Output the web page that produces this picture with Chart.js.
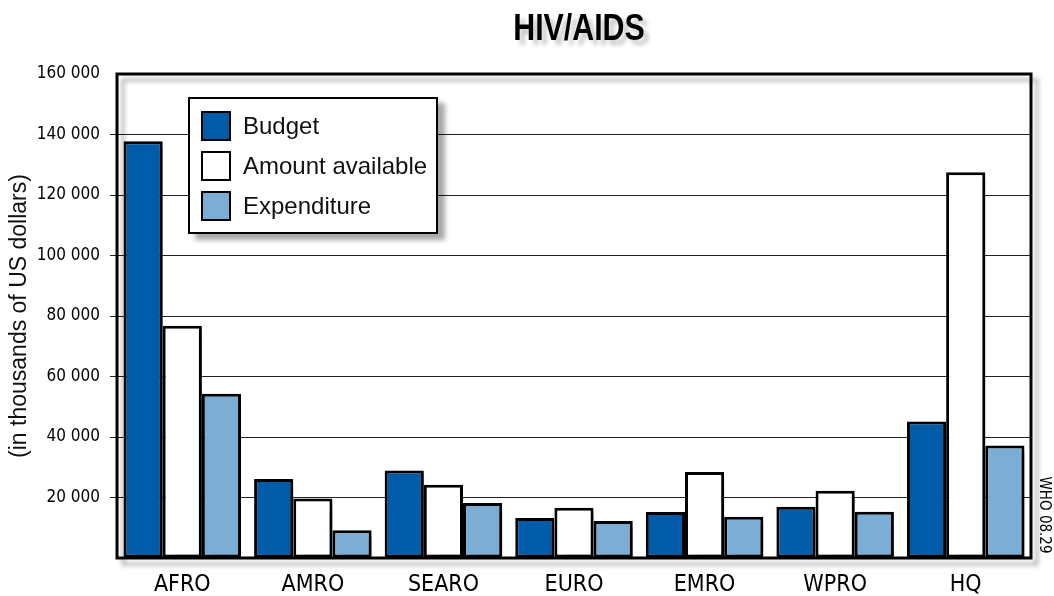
<!DOCTYPE html>
<html>
<head>
<meta charset="utf-8">
<script src="https://cdn.jsdelivr.net/npm/chart.js@4.4.0/dist/chart.umd.min.js"></script>
<style>
  body { margin: 0; background: #fff; }
  #wrap { position: relative; width: 1054px; height: 596px; }
  #legend {
    position: absolute; left: 188px; top: 97px; width: 246px; height: 133px;
    border: 2px solid #000; background: #fff;
    box-shadow: 7px 6px 5px rgba(0,0,0,0.35);
    font-family: 'Liberation Sans', Arial, sans-serif; font-size: 24px; color: #111;
  }
  .item { position: absolute; left: 11px; height: 30px; display: flex; align-items: center; white-space: nowrap; }
  .sw { width: 26px; height: 26px; border: 2px solid #000; margin-right: 12px; }
</style>
</head>
<body>
<div id="wrap">
  <canvas id="chart" width="1054" height="596"></canvas>
  <div id="legend"></div>
</div>
<script>
const regions     = ['AFRO', 'AMRO', 'SEARO', 'EURO', 'EMRO', 'WPRO', 'HQ'];
const budget      = [137800, 26100, 28900, 13200, 15200, 16950, 45150];
const available   = [76750, 19650, 24200, 16650, 28450, 22200, 127500];
const expenditure = [54300, 9200, 18200, 12200, 13600, 15300, 37150];
const seriesNames = ['Budget', 'Amount available', 'Expenditure'];
const seriesColors = ['#005ba9', '#ffffff', '#7badd5'];

const cond = "'DejaVu Sans Condensed', sans-serif";
const regular = "'Liberation Sans', Arial, sans-serif";

// shadow behind bars
const barShadow = {
  id: 'barShadow',
  beforeDatasetsDraw(chart) {
    const ctx = chart.ctx;
    ctx.save();
    ctx.shadowColor = 'rgba(0,0,0,0.38)';
    ctx.shadowOffsetX = 8;
    ctx.shadowOffsetY = 6;
    ctx.shadowBlur = 4;
  },
  afterDatasetsDraw(chart) {
    chart.ctx.restore();
  }
};

// frame, title and code
const decor = {
  id: 'decor',
  afterDatasetsDraw(chart) {
    const { ctx, chartArea: { left, top, right, bottom } } = chart;
    ctx.save();
    ctx.shadowColor = 'rgba(0,0,0,0.3)';
    ctx.shadowOffsetX = 6;
    ctx.shadowOffsetY = 6;
    ctx.shadowBlur = 4;
    ctx.strokeStyle = '#000';
    ctx.lineWidth = 3;
    ctx.strokeRect(left, top, right - left, bottom - top);
    ctx.restore();

    // title, squeezed to look condensed
    ctx.save();
    ctx.fillStyle = '#000';
    ctx.shadowColor = 'rgba(0,0,0,0.22)';
    ctx.shadowOffsetX = 5;
    ctx.shadowOffsetY = 5;
    ctx.shadowBlur = 4;
    ctx.translate((left + right) / 2 + 5, 40);
    ctx.scale(0.82, 1);
    ctx.textAlign = 'center';
    ctx.textBaseline = 'alphabetic';
    ctx.font = 'bold 37px ' + regular;
    ctx.fillText('HIV/AIDS', 0, 0);
    ctx.restore();

    ctx.save();
    ctx.translate(1044, 515);
    ctx.rotate(Math.PI / 2);
    ctx.fillStyle = '#000';
    ctx.font = '15px ' + cond;
    ctx.textAlign = 'center';
    ctx.textBaseline = 'middle';
    ctx.fillText('WHO 08.29', 0, 0);
    ctx.restore();
  }
};

const fmt = v => v === 0 ? '' : String(v).replace(/\B(?=(\d{3})+(?!\d))/g, ' ');

new Chart(document.getElementById('chart'), {
  type: 'bar',
  data: {
    labels: regions,
    datasets: [budget, available, expenditure].map((d, i) => ({
      label: seriesNames[i],
      data: d,
      backgroundColor: seriesColors[i],
      borderColor: '#000',
      borderWidth: 3,
      borderSkipped: false,
      categoryPercentage: 0.9,
      barPercentage: 1
    }))
  },
  options: {
    responsive: false,
    animation: false,
    layout: { padding: { top: 74, right: 23, left: 0, bottom: 0 } },
    plugins: {
      legend: { display: false },
      title: { display: false },
      tooltip: { enabled: false }
    },
    scales: {
      x: {
        grid: { display: false },
        border: { display: false },
        ticks: { color: '#000', font: { family: cond, size: 23 }, padding: 5 },
        afterFit(s) { s.height = 38; }
      },
      y: {
        min: 0,
        max: 160000,
        ticks: { stepSize: 20000, callback: fmt, color: '#000', font: { family: cond, size: 17 }, padding: 10 },
        grid: {
          color: c => (c.tick && (c.tick.value === 0 || c.tick.value === 160000)) ? 'rgba(0,0,0,0)' : '#222',
          lineWidth: 1,
          tickLength: 7
        },
        border: { display: false },
        title: {
          display: true,
          text: '(in thousands of US dollars)',
          color: '#111',
          font: { family: regular, size: 23 },
          padding: { top: 6, bottom: 0 }
        },
        afterFit(s) { s.width = 117; }
      }
    }
  },
  plugins: [barShadow, decor]
});

const leg = document.getElementById('legend');
seriesNames.forEach((name, i) => {
  const it = document.createElement('div');
  it.className = 'item';
  it.style.top = (12 + i * 40) + 'px';
  it.innerHTML = `<div class="sw" style="background:${seriesColors[i]}"></div><span>${name}</span>`;
  leg.appendChild(it);
});
</script>
</body>
</html>
